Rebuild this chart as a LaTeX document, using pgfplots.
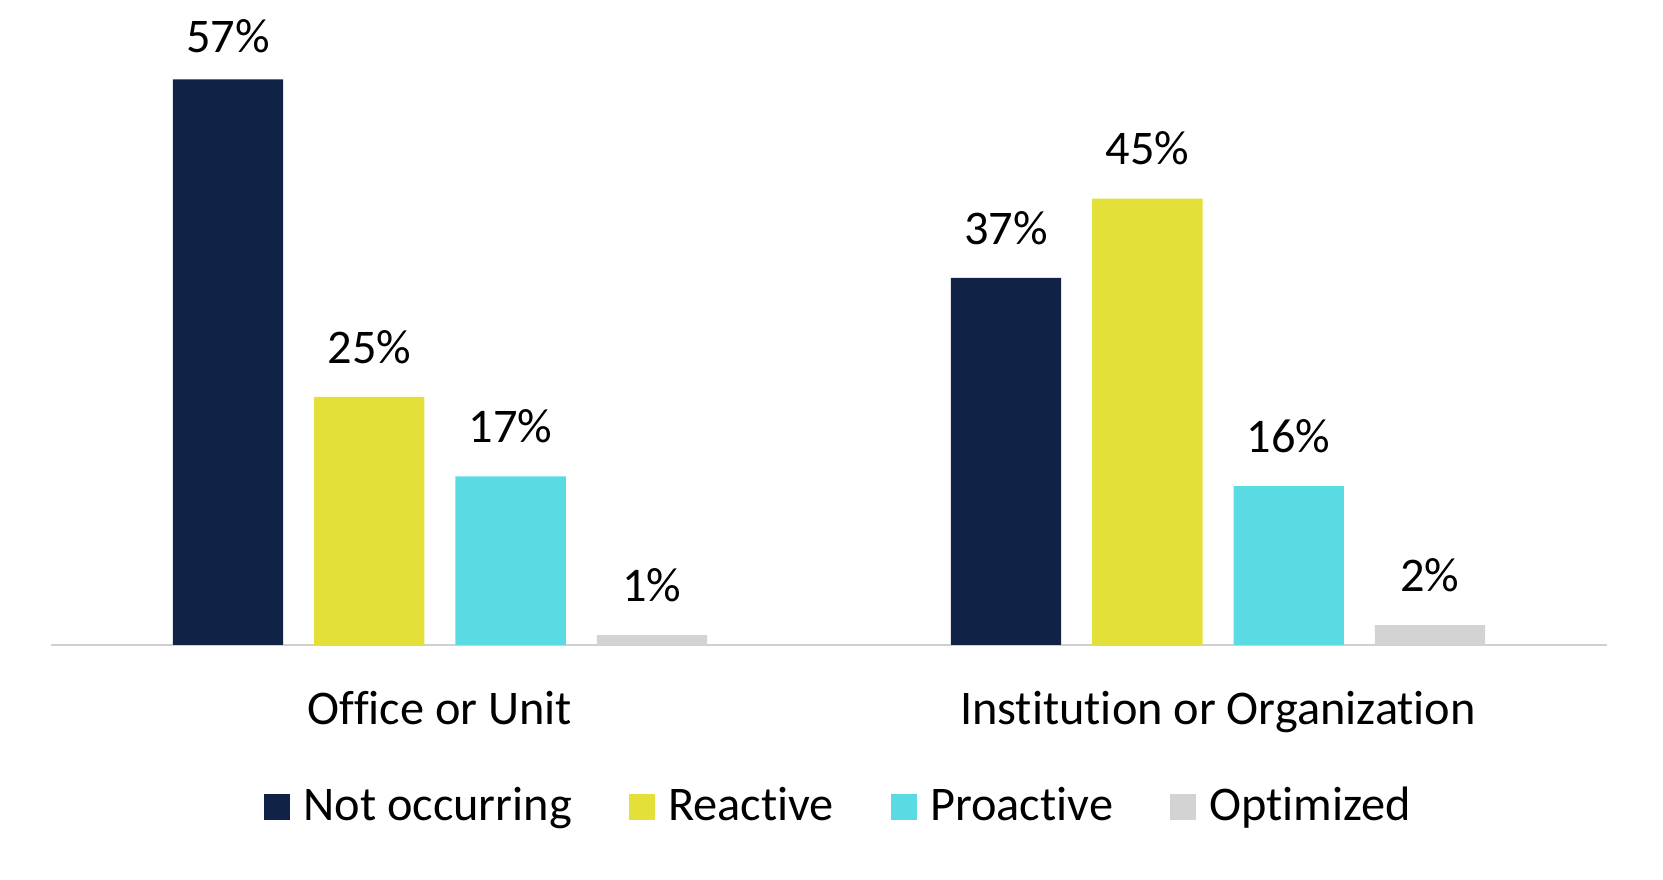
\documentclass[border=0pt]{standalone}
\usepackage{pgfplots}
\pgfplotsset{compat=1.18}
\usepackage{fontspec}
\setmainfont{Carlito}[RawFeature={-liga}]
\definecolor{navy}{HTML}{102246}
\definecolor{yel}{HTML}{E3E039}
\definecolor{cya}{HTML}{5ADBE3}
\definecolor{gry}{HTML}{D3D3D3}
\definecolor{axgry}{HTML}{D0D0D0}
\newcommand{\chartfont}{\fontsize{14.5}{17.4}\selectfont}
\pgfplotsset{sqleg/.style={legend image code/.code={\fill[##1] (0pt,-3.9pt) rectangle (7.8pt,3.9pt);}}}
\begin{document}
\begin{tikzpicture}
\begin{axis}[
  scale only axis, width=466.8pt, height=178.6pt,
  xmin=-0.5, xmax=1.5, ymin=0, ymax=60,
  axis x line=bottom, axis y line=none,
  x axis line style={-, draw=axgry, line width=0.8pt},
  xtick={0,1}, xticklabels={Office or Unit, Institution or Organization},
  major tick length=0pt, xtick style={draw=none},
  xticklabel style={anchor=base, yshift=-23.9pt, font=\chartfont},
  ybar=9.3pt, bar width=33.1pt,
  visualization depends on={y \as \rawy},
  nodes near coords={\pgfmathprintnumber{\pgfplotspointmeta}\%},
  nodes near coords style={anchor=base, yshift={\rawy>50 ? 8.1 : 10.1}, font=\chartfont, text=black},
  /pgf/number format/assume math mode=true,
  legend columns=4,
  legend style={draw=none, at={(0.5,0)}, anchor=center, yshift=-48.5pt, xshift=3.6pt, font=\chartfont,
    /tikz/every odd column/.append style={column sep=1.9pt},
    /tikz/every even column/.append style={column sep=15.2pt}},
]
\addplot[fill=navy, draw=none, sqleg] coordinates {(0,57) (1,37)};
\addplot[fill=yel, draw=none, sqleg] coordinates {(0,25) (1,45)};
\addplot[fill=cya, draw=none, sqleg] coordinates {(0,17) (1,16)};
\addplot[fill=gry, draw=none, sqleg] coordinates {(0,1) (1,2)};
\legend{Not occurring, Reactive, Proactive, Optimized}
\end{axis}
\pgfresetboundingbox
\path (-15.3pt,-70.5pt) rectangle (483.6pt,193.5pt);
\end{tikzpicture}
\end{document}
